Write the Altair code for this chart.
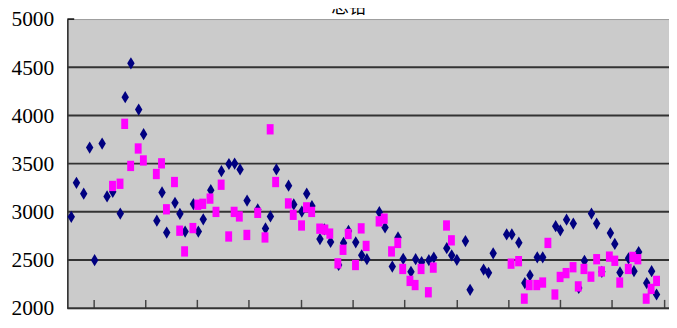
import altair as alt
import pandas as pd

# ---- data ----
title_text = "总铅"

blue_x = [1.5, 3.5, 6.3, 8.6, 10.5, 13.4, 15.3, 17.5, 20.4, 22.3, 24.5, 27.5, 29.4, 34.5, 36.5,
          38.3, 41.5, 43.4, 45.4, 48.6, 50.5, 52.4, 55.3, 59.4, 62.3, 64.5, 66.6, 69.3, 73.4, 76.4,
          78.3, 80.6, 85.3, 87.3, 90.4, 92.3, 94.3, 97.4, 99.1, 101.5, 104.6, 106.5, 108.4, 111.2,
          113.5, 115.5, 120.3, 122.5, 125.3, 127.5, 129.5, 132.5, 134.3, 136.6, 139.4, 141.3,
          146.3, 148.2, 150.2, 153.5, 155.3, 160.5, 162.4, 164.2, 169.4, 171.4, 174.1, 176.4,
          178.4, 181.2, 183.3, 188.3, 190.1, 192.5, 195.1, 197.2, 199.4, 202.1, 204.1, 206.1,
          209.4, 211.1, 213.1, 216.4, 218.5, 220.3, 223.4, 225.3, 227.2]
blue_y = [2948, 3301, 3188, 3667, 2498, 3708, 3160, 3208, 2982, 4189, 4541, 4061, 3806, 2908, 3201,
          2784, 3093, 2979, 2795, 3080, 2795, 2922, 3224, 3422, 3496, 3500, 3440, 3117, 3025, 2828,
          2952, 3440, 3271, 3077, 3002, 3188, 3060, 2717, 2818, 2687, 2448, 2677, 2801, 2683,
          2549, 2508, 2996, 2838, 2432, 2734, 2512, 2377, 2508, 2478, 2498, 2525,
          2623, 2549, 2502, 2697, 2190, 2401, 2367, 2569, 2765, 2765, 2680, 2261,
          2341, 2528, 2528, 2851, 2808, 2918, 2878, 2210, 2492, 2982, 2878, 2377,
          2780, 2667, 2371, 2518, 2384, 2583, 2261, 2384, 2142]

pink_x = [17.4, 20.3, 22.1, 24.4, 27.3, 29.3, 34.3, 36.3, 38.2, 41.3, 43.3, 45.2, 48.4, 50.3, 52.2,
          55.0, 57.3, 59.3, 62.2, 64.3, 66.3, 69.2, 73.4, 76.2, 78.2, 80.3, 85.2, 87.1, 90.3, 92.2,
          94.2, 97.3, 99.3, 101.2, 104.3, 106.3, 108.3, 111.1, 113.3, 115.2, 120.2, 122.2, 125.0,
          127.4, 129.3, 132.1, 134.1, 136.4, 139.2, 141.1, 146.2, 148.1, 171.1, 174.0, 176.2,
          178.1, 181.0, 183.3, 185.3, 188.0, 190.0, 192.3, 195.0, 197.0, 199.2, 201.9, 204.1,
          206.0, 209.0, 211.1, 213.0, 216.3, 218.0, 220.0, 223.2, 225.1, 227.2]
pink_y = [3268, 3291, 3913, 3476, 3657, 3533, 3392, 3503, 3026, 3309, 2804, 2589, 2831, 3073, 3083,
          3137, 2999, 3281, 2744, 2999, 2952, 2760, 2989, 2734, 3856, 3309, 3087, 2969, 2858, 3046,
          2999, 2825, 2815, 2774, 2465, 2606, 2770, 2448, 2828, 2646, 2901, 2929, 2589,
          2677, 2407, 2283, 2240, 2407, 2165, 2421, 2858, 2704, 2462, 2488, 2099,
          2240, 2240, 2266, 2677, 2142, 2324, 2364, 2425, 2226, 2407, 2327, 2508,
          2381, 2535, 2492, 2266, 2407, 2532, 2508, 2099, 2200, 2283]

y_ticks = [2000, 2500, 3000, 3500, 4000, 4500, 5000]
grid_values = [2000, 2500, 3000, 3500, 4000, 4500]
x_ticks = list(range(10, 240, 10))

blue = pd.DataFrame({"x": blue_x, "y": blue_y})
pink = pd.DataFrame({"x": pink_x, "y": pink_y})
grid = pd.DataFrame({"y": grid_values})

W, H = 618, 297
xs = alt.Scale(domain=[0, 232], nice=False, zero=False)
ys = alt.Scale(domain=[2000, 5000], nice=False, zero=False)

diamond = "M0,-1.65L1,0L0,1.65L-1,0Z"
rect = "M-1,-1.5L1,-1.5L1,1.5L-1,1.5Z"

gridlines = alt.Chart(grid).mark_rule(color="#333333", strokeWidth=2).encode(
    y=alt.Y("y:Q", scale=ys,
            axis=alt.Axis(values=y_ticks, title=None, grid=False, tickSize=0,
                          labelPadding=14, labelFont="Liberation Serif, Times New Roman, serif",
                          labelFontSize=22,
                          labelColor="#000000", domainColor="#000000", domainWidth=1.2,
                          format="d")),
)

xaxis = alt.Axis(values=x_ticks, title=None, labels=False, grid=False, domain=False,
                 tickSize=9, offset=-9, tickColor="#444444", tickWidth=1.5)

blue_pts = alt.Chart(blue).mark_point(shape=diamond, filled=True, size=58, color="#000080",
                                      opacity=1).encode(
    x=alt.X("x:Q", scale=xs, axis=xaxis),
    y=alt.Y("y:Q", scale=ys),
)

pink_pts = alt.Chart(pink).mark_point(shape=rect, filled=True, size=50, color="#FF00FF",
                                      opacity=1).encode(
    x=alt.X("x:Q", scale=xs),
    y=alt.Y("y:Q", scale=ys),
)

corner_tick = alt.Chart(grid).transform_filter("datum.y == 2000").mark_rule(
    color="#000000", strokeWidth=1.5).encode(
    x=alt.value(0), x2=alt.value(7), y=alt.datum(5000, scale=ys)
)

title = alt.Chart(grid).transform_filter("datum.y == 2000").mark_text(
    text=title_text, font="Noto Sans CJK SC", fontSize=18, baseline="bottom",
    align="center", color="#000000").encode(
    x=alt.value(289), y=alt.value(-2)
)

chart = alt.layer(gridlines, blue_pts, pink_pts, corner_tick, title).properties(
    width=W, height=H,
    padding={"left": 61, "top": 7, "right": 0, "bottom": 16},
    autosize=alt.AutoSizeParams(type="none"),
    background="#FFFFFF",
).configure_view(fill="#CBCBCB", stroke="#9A9A9A", strokeWidth=1)

chart.save("out.html", embed_options={"renderer": "svg", "actions": False})
